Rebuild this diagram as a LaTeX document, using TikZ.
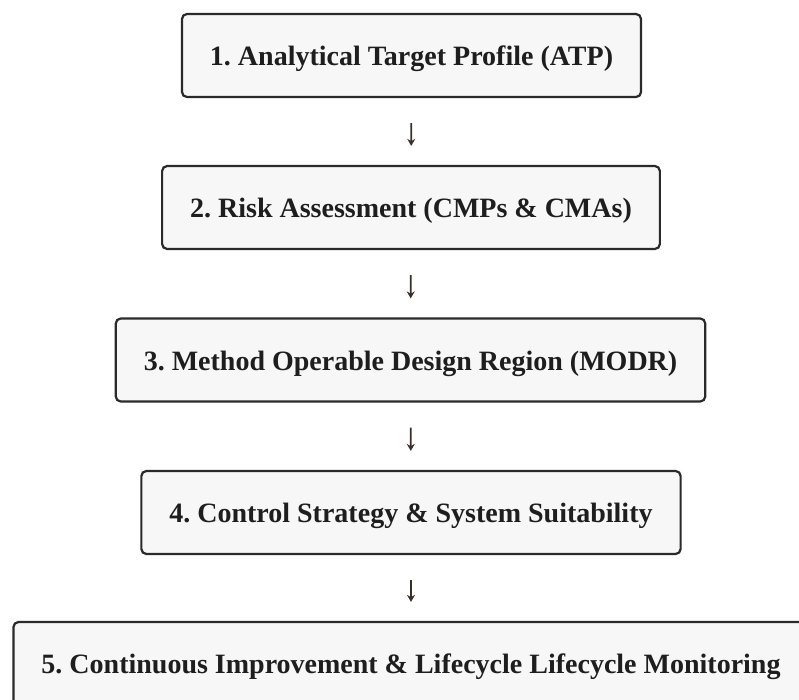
\documentclass[tikz,border=0pt]{standalone}
\usepackage{fontspec}
\setmainfont{Liberation Serif}
\usetikzlibrary{arrows.meta}
\definecolor{boxfill}{HTML}{F7F7F7}
\definecolor{boxline}{HTML}{2A2A2A}
\definecolor{txt}{HTML}{1E1E1E}
\definecolor{arrowcol}{HTML}{3A2E2A}
\tikzset{
  stage/.style={draw=boxline, line width=2.2pt, fill=boxfill, rounded corners=5pt,
    minimum height=83pt, inner xsep=28pt, text=txt, text height=20pt, text depth=0pt,
    font=\fontsize{28}{32}\selectfont\bfseries\frenchspacing},
  flow/.style={draw=arrowcol, line width=1.6pt, -{Stealth[length=7pt,width=8pt]}}
}
\begin{document}
\begin{tikzpicture}[x=1pt,y=-1pt]
  \useasboundingbox (0,0) rectangle (799,700);
  \clip (0,0) rectangle (799,700);
  \node[stage] (s1) at (411.5,55.5) {1. Analytical Target Profile (ATP)};
  \node[stage] (s2) at (411,207.5) {2. Risk Assessment (CMPs \& CMAs)};
  \node[stage] (s3) at (410.5,360) {3. Method Operable Design Region (MODR)};
  \node[stage] (s4) at (411,512.5) {4. Control Strategy \& System Suitability};
  \node[stage] (s5) at (411,663.5) {5. Continuous Improvement \& Lifecycle Lifecycle Monitoring};
  \draw[flow, shorten <=25pt, shorten >=19pt] (s1) -- (s2);
  \draw[flow, shorten <=25pt, shorten >=19pt] (s2) -- (s3);
  \draw[flow, shorten <=25pt, shorten >=19pt] (s3) -- (s4);
  \draw[flow, shorten <=25pt, shorten >=19pt] (s4) -- (s5);
\end{tikzpicture}
\end{document}
